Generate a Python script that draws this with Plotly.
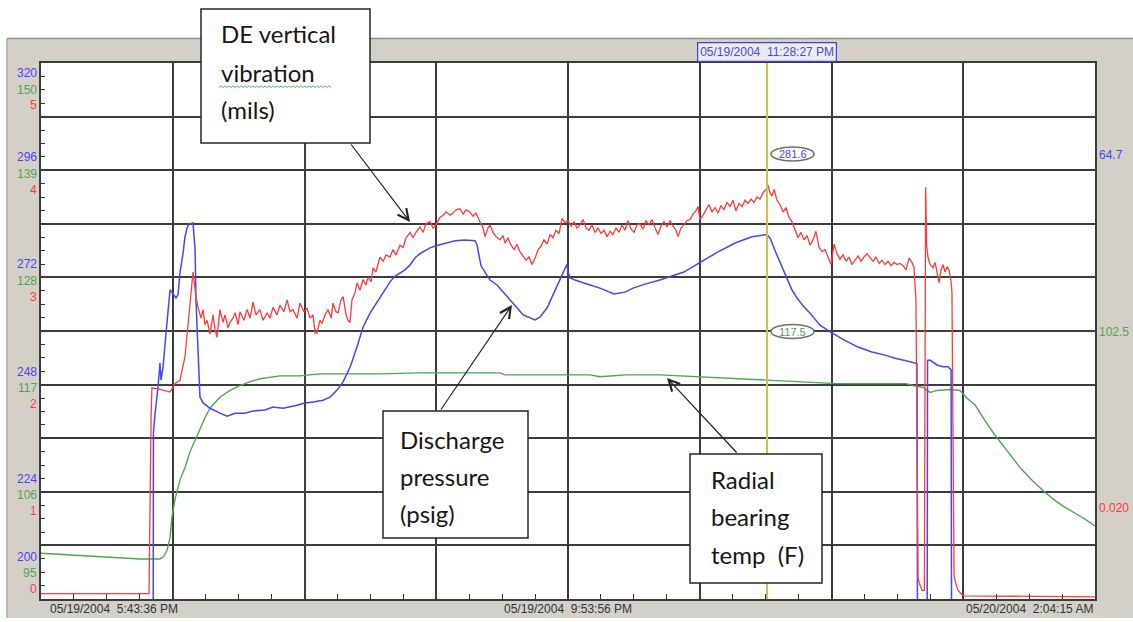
import pandas as pd
import plotly.graph_objects as go

# ---- canvas and plot-area geometry (pixels) ----
W, H = 1133, 622
ML, MR, MT, MB = 41, 38, 63, 23
PW, PH = W - ML - MR, H - MT - MB


def fx(px):
    """canvas x pixel -> paper fraction"""
    return (px - ML) / PW


def fy(py):
    """canvas y pixel (from top) -> paper fraction"""
    return (H - MB - py) / PH


# ---- trend window ----
TREND_START = pd.Timestamp("2004-05-19 17:43:36")
TREND_END = pd.Timestamp("2004-05-20 02:04:15")
CURSOR_TIME = pd.Timestamp("2004-05-19 23:28:27")
CURSOR_MIN = 344.85  # minutes after trend start

time_labels = ["05/19/2004  5:43:36 PM", "05/19/2004  9:53:56 PM", "05/20/2004  2:04:15 AM"]
label_times = ["2004-05-19 17:43:36", "2004-05-19 21:53:56", "2004-05-20 02:04:15"]
cursor_label = "05/19/2004  11:28:27 PM"

# ---- left scale labels (one row every two grid divisions) ----
pressure_ticks = [200, 224, 248, 272, 296, 320]   # psig
temp_ticks = [95, 106, 117, 128, 139, 150]        # deg F
vib_ticks = [0, 1, 2, 3, 4, 5]                    # mils

# ---- DE vertical vibration (mils) ----
vib_min = [0, 51.3, 52.3, 52.7, 55.6, 58.9, 61.3, 63.7, 66.0, 68.4, 69.8, 71.3, 72.2, 73.6, 74.6,
           76.0, 77.0, 77.9, 78.9, 80.3, 81.7, 82.7, 83.6, 85.0, 86.5, 87.4, 88.8, 89.8, 91.2, 92.2,
           93.6, 94.5, 96.4, 97.9, 99.3, 100.7, 102.1, 104.0, 105.5, 107.4, 108.8, 110.2, 112.1,
           113.5, 115.4, 116.9, 118.3, 119.7, 121.6, 123.0, 124.9, 126.4, 127.8, 129.2, 130.2,
           131.1, 132.5, 133.5, 134.9, 136.3, 137.8, 138.7, 140.1, 141.1, 142.5, 143.5, 144.9,
           145.8, 146.8, 147.7, 149.2, 150.1, 151.5, 153.0, 154.4, 155.3, 156.8, 157.7, 159.1,
           161.0, 162.5, 163.9, 165.8, 167.2, 168.6, 170.5, 172.0, 173.4, 175.3, 176.7, 178.1,
           180.0, 181.5, 182.9, 184.8, 186.2, 187.6, 189.5, 191.0, 192.4, 194.3, 195.7, 197.1,
           199.0, 200.5, 201.9, 203.8, 205.2, 206.6, 208.5, 210.0, 210.9, 212.3, 213.3, 214.7,
           216.1, 218.0, 219.5, 220.4, 221.8, 223.3, 224.7, 226.1, 227.5, 229.0, 230.4, 231.8,
           233.2, 234.7, 236.1, 237.5, 238.9, 240.4, 241.8, 243.2, 244.6, 246.1, 247.5, 248.9,
           250.3, 251.8, 253.2, 254.6, 256.0, 257.5, 258.9, 260.3, 261.7, 263.2, 264.6, 266.0,
           267.4, 268.9, 270.3, 271.7, 273.1, 274.6, 276.0, 277.4, 278.8, 280.3, 281.7, 283.1,
           284.5, 286.0, 287.4, 288.8, 290.2, 291.7, 293.1, 294.5, 295.9, 297.4, 298.8, 300.2,
           301.6, 302.6, 304.0, 305.4, 306.9, 308.3, 309.7, 311.1, 312.1, 313.0, 314.5, 315.9,
           317.3, 318.7, 320.2, 321.6, 323.0, 324.4, 325.9, 327.3, 328.7, 330.1, 331.6, 333.0,
           334.4, 335.8, 337.3, 338.7, 340.1, 341.5, 343.0, 344.4, 345.3, 346.3, 347.2, 348.2,
           349.6, 351.0, 352.5, 353.9, 355.3, 356.7, 358.2, 359.6, 361.0, 362.4, 363.9, 365.3,
           366.7, 368.1, 369.6, 371.0, 372.4, 373.8, 375.3, 376.7, 378.1, 379.5, 381.0, 382.4,
           383.8, 385.2, 386.7, 388.1, 389.5, 390.9, 392.4, 393.8, 395.2, 396.6, 398.1, 399.5,
           400.9, 402.3, 403.8, 405.2, 406.6, 408.0, 409.5, 410.9, 412.3, 413.7, 414.7, 415.6,
           416.1, 416.6, 417.5, 418.5, 419.6, 420.2, 420.7, 421.3, 422.3, 423.7, 424.7, 425.6,
           426.6, 427.5, 428.5, 429.4, 430.4, 431.3, 432.3, 432.7, 433.2, 433.7, 434.6, 435.6,
           437.5, 438.4, 500.6]
vib_mils = [0.05, 0.05, 1.71, 1.97, 1.96, 1.94, 1.93, 2.01, 2.04, 2.26, 2.54, 2.82, 3.05, 2.82, 2.72,
            2.62, 2.70, 2.56, 2.60, 2.47, 2.65, 2.51, 2.44, 2.70, 2.58, 2.65, 2.53, 2.58, 2.62, 2.67,
            2.56, 2.68, 2.60, 2.70, 2.62, 2.77, 2.65, 2.70, 2.60, 2.67, 2.62, 2.72, 2.65,
            2.74, 2.68, 2.79, 2.68, 2.70, 2.62, 2.76, 2.68, 2.71, 2.62, 2.65, 2.48,
            2.48, 2.60, 2.57, 2.65, 2.70, 2.62, 2.76, 2.68, 2.67, 2.79, 2.82, 2.65,
            2.60, 2.58, 2.79, 2.86, 2.95, 2.88, 2.98, 2.93, 3.00, 2.96, 3.09, 3.05,
            3.19, 3.15, 3.21, 3.19, 3.26, 3.21, 3.30, 3.28, 3.37, 3.42, 3.37, 3.42,
            3.47, 3.42, 3.50, 3.52, 3.46, 3.49, 3.56, 3.58, 3.61, 3.58, 3.60, 3.63,
            3.64, 3.59, 3.63, 3.61, 3.57, 3.60, 3.52, 3.46, 3.38, 3.46, 3.49, 3.42,
            3.38, 3.35, 3.39, 3.32, 3.37, 3.30, 3.26, 3.31, 3.24, 3.20, 3.16, 3.19,
            3.12, 3.18, 3.26, 3.29, 3.35, 3.31, 3.40, 3.37, 3.44, 3.41, 3.55, 3.51,
            3.53, 3.48, 3.52, 3.46, 3.49, 3.54, 3.46, 3.44, 3.49, 3.42, 3.46, 3.41,
            3.44, 3.38, 3.43, 3.40, 3.46, 3.42, 3.49, 3.44, 3.53, 3.45, 3.42, 3.49,
            3.50, 3.45, 3.53, 3.49, 3.54, 3.46, 3.40, 3.48, 3.52, 3.47, 3.53, 3.48,
            3.44, 3.38, 3.46, 3.49, 3.53, 3.54, 3.59, 3.62, 3.66, 3.54, 3.58, 3.63,
            3.68, 3.61, 3.65, 3.60, 3.67, 3.63, 3.70, 3.66, 3.72, 3.62, 3.69, 3.66,
            3.72, 3.69, 3.73, 3.70, 3.75, 3.73, 3.79, 3.82, 3.86, 3.79, 3.76, 3.82,
            3.72, 3.68, 3.61, 3.65, 3.56, 3.52, 3.44, 3.37, 3.42, 3.35, 3.39, 3.30,
            3.35, 3.43, 3.28, 3.24, 3.26, 3.20, 3.12, 3.31, 3.22, 3.17, 3.21, 3.15,
            3.19, 3.12, 3.16, 3.20, 3.15, 3.19, 3.22, 3.18, 3.15, 3.19, 3.13, 3.16,
            3.12, 3.15, 3.11, 3.14, 3.12, 3.13, 3.11, 3.07, 3.18, 3.14, 3.09, 2.79,
            1.11, 0.19, 0.13, 0.08, 0.08, 3.84, 3.30, 3.19, 3.12, 3.09, 3.14, 3.05,
            2.95, 3.07, 3.12, 3.05, 3.10, 3.07, 2.96, 2.86, 0.92, 0.22, 0.14, 0.08,
            0.04, 0.03, 0.020]

# ---- Discharge pressure (psig) ----
press_min = [0, 53.0, 53.4, 54.2, 55.6, 56.5, 57.0, 58.0, 59.4, 60.3, 61.3, 62.2, 63.2, 64.1, 65.1,
             66.0, 67.5, 68.4, 69.4, 70.3, 72.2, 73.2, 73.6, 74.6, 75.5, 77.0, 80.3, 85.0, 88.4,
             92.2, 96.9, 100.7, 106.4, 110.2, 115.0, 121.6, 125.4, 129.2, 134.0, 137.3, 140.6,
             143.5, 146.8, 150.1, 153.0, 156.3, 159.6, 163.4, 165.8, 168.2, 170.5, 172.9, 175.3,
             177.7, 180.0, 182.4, 184.8, 187.6, 191.9, 196.7, 201.4, 206.2, 207.1, 208.1, 209.0,
             210.9, 213.3, 216.6, 219.5, 222.8, 226.1, 229.0, 232.3, 234.7, 237.0, 240.4, 243.2,
             246.5, 248.9, 249.9, 250.3, 251.3, 253.7, 256.0, 260.8, 265.5, 272.2, 277.4, 281.2,
             286.9, 294.0, 299.7, 305.4, 313.5, 321.6, 329.7, 337.7, 344.85, 346.3, 349.1, 351.5,
             353.9, 356.7, 359.1, 362.4, 365.3, 370.0, 375.3, 381.4, 388.1, 394.7, 400.9, 405.7,
             410.4, 414.2, 416.1, 416.8, 420.6, 421.1, 422.3, 425.6, 428.5, 430.8, 432.3, 433.0,
             500.6]
press_psig = [60.0, 60.0, 237.1, 241.6, 247.4, 252.8, 249.0, 252.0, 259.6, 264.7, 269.2, 268.7,
              268.1, 267.4, 268.1, 273.0, 277.5, 281.1, 283.1, 284.0, 284.2, 278.2, 267.0, 253.5,
              245.2, 243.9, 242.7, 241.6, 240.9, 241.6, 241.6, 242.1, 242.3, 243.0, 242.7, 243.4,
              243.9, 244.1, 244.5, 245.2, 246.8, 248.6, 251.9, 256.4, 260.9, 264.0, 266.5, 269.2,
              271.0, 272.3, 273.0, 273.7, 274.8, 276.4, 277.3, 278.0, 278.6, 279.1, 279.7, 280.2,
              280.4, 280.2, 279.3, 276.4, 274.6, 273.2, 271.4, 270.3, 268.8, 267.0, 265.2, 263.6,
              262.9, 262.5, 263.1, 265.2, 268.1, 271.4, 274.1, 275.0, 273.2, 271.9, 271.4, 271.0,
              270.3, 269.6, 268.3, 268.7, 269.6, 270.5, 271.4, 272.3, 273.2, 275.5, 277.7, 279.7,
              281.1, 281.6, 280.8, 277.5, 274.8, 272.1, 269.2, 267.4, 265.4, 264.0, 261.3, 259.7,
              258.0, 256.4, 255.3, 254.6, 253.9, 253.4, 253.0, 252.7, 64.7, 64.7, 253.4, 253.5,
              252.4, 252.0, 252.0, 251.3, 64.7, 64.7]

# ---- Radial bearing temperature (F) ----
temp_min = [0, 28.0, 47.0, 56.5, 58.0, 59.9, 61.3, 62.2, 63.7, 66.0, 68.4, 70.8, 73.2, 75.5, 77.9,
            80.3, 85.0, 89.8, 94.5, 99.3, 104.0, 113.5, 123.0, 132.5, 161.0, 180.0, 218.0, 220.4,
            260.8, 265.5, 277.9, 294.0, 313.5, 344.85, 378.1, 398.5, 410.9, 414.2, 419.0, 422.3,
            425.6, 431.8, 436.5, 439.9, 443.7, 448.4, 453.2, 459.3, 465.0, 469.8, 475.5, 481.7,
            486.4, 491.2, 495.9, 500.6]
temp_f = [99.7, 99.3, 99.1, 99.1, 99.3, 100.0, 101.3, 103.4, 105.3, 107.2, 108.5, 110.1, 111.3,
          112.5, 113.6, 114.6, 115.7, 116.4, 116.9, 117.3, 117.6, 117.9, 117.9, 118.1, 118.1,
          118.2, 118.2, 118.0, 118.0, 117.8, 118.0, 118.0, 117.8, 117.5, 117.1, 117.1, 117.1,
          116.9, 116.7, 116.2, 116.4, 116.5, 116.4, 115.6, 114.9, 113.3, 111.8, 110.1, 108.5,
          107.4, 106.2, 105.1, 104.4, 103.8, 103.2, 102.5]


def to_times(minutes):
    return [TREND_START + pd.Timedelta(minutes=m) for m in minutes]


BLUE, GREEN, RED = "#4646f5", "#4ea64e", "#ff3a3a"
GRID = "#3c3c3c"
PANEL = "#d4d0c8"
LABEL_FONT = "Liberation Sans, Arial, sans-serif"
CALLOUT_FONT = "Lato, Calibri, sans-serif"

cursor_pressure = press_psig[press_min.index(CURSOR_MIN)]
cursor_temp = temp_f[temp_min.index(CURSOR_MIN)]

fig = go.Figure()
fig.add_trace(go.Scatter(x=to_times(temp_min), y=temp_f, mode="lines", yaxis="y",
                         line=dict(color=GREEN, width=1.4), hoverinfo="skip"))
fig.add_trace(go.Scatter(x=to_times(press_min), y=press_psig, mode="lines", yaxis="y2",
                         line=dict(color=BLUE, width=1.5), hoverinfo="skip"))
fig.add_trace(go.Scatter(x=to_times(vib_min), y=vib_mils, mode="lines", yaxis="y3",
                         line=dict(color=RED, width=1.3), hoverinfo="skip"))

span_ms = (TREND_END - TREND_START).total_seconds() * 1000
x_div = span_ms / 8

shapes = [
    # grey instrument panel behind the plot
    dict(type="rect", xref="paper", yref="paper", x0=fx(7), x1=fx(W + 5), y0=fy(618), y1=fy(38),
         fillcolor=PANEL, line=dict(width=0), layer="below"),
    dict(type="line", xref="paper", yref="paper", x0=fx(7), x1=fx(W + 5), y0=fy(38.5), y1=fy(38.5),
         line=dict(color="#8e8e8e", width=1.5), layer="below"),
    dict(type="line", xref="paper", yref="paper", x0=fx(7), x1=fx(7), y0=fy(618), y1=fy(38.5),
         line=dict(color="#a8a8a8", width=1.5), layer="below"),
    # white chart area
    dict(type="rect", xref="paper", yref="paper", x0=0, x1=1, y0=0, y1=1,
         fillcolor="white", line=dict(width=0), layer="below"),
    # cursor
    dict(type="line", xref="x", yref="paper", x0=CURSOR_TIME, x1=CURSOR_TIME, y0=0, y1=1,
         line=dict(color="#c9c54a", width=2), layer="above"),
]

# value bubbles beside the cursor
for yb in (154, 331.5):
    shapes.append(dict(type="circle", xref="x", yref="paper", xsizemode="pixel", ysizemode="pixel",
                       xanchor=CURSOR_TIME, yanchor=fy(yb), x0=4, x1=47, y0=-7, y1=7,
                       fillcolor="white", line=dict(color="#707070", width=1.5), layer="above"))

# callout boxes
boxes = [(201, 370, 9, 143), (383, 528, 411, 538), (690, 822, 454, 583)]
for x0, x1, y0, y1 in boxes:
    shapes.append(dict(type="rect", xref="paper", yref="paper", x0=fx(x0), x1=fx(x1),
                       y0=fy(y1), y1=fy(y0), fillcolor="white",
                       line=dict(color="#262626", width=1.5), layer="above"))

# spell-check squiggle under "vibration"
zig = "M0,0" + "".join(f" L{i * 2},{1.6 if i % 2 else 0}" for i in range(1, 57))
shapes.append(dict(type="path", xref="paper", yref="paper", xsizemode="pixel", ysizemode="pixel",
                   xanchor=fx(219), yanchor=fy(87.5), path=zig,
                   line=dict(color="#5cb85c", width=1), layer="above"))

ann = []
# left stacked scale labels
row_shift = {"mid": (13, -3.5, -19.5), "top": (-10, -27, -42), "bottom": (42, 26, 10)}
for k in range(len(temp_ticks)):
    key = "bottom" if k == 0 else ("top" if k == len(temp_ticks) - 1 else "mid")
    sb, sg, sr = row_shift[key]
    for val, yref, col, sh in ((pressure_ticks[k], "y2", BLUE, sb),
                               (temp_ticks[k], "y", GREEN, sg),
                               (vib_ticks[k], "y3", RED, sr)):
        ann.append(dict(x=0, xref="paper", xanchor="right", xshift=-2, y=val, yref=yref,
                        yanchor="middle", yshift=sh, text=str(val), showarrow=False,
                        font=dict(family=LABEL_FONT, size=12, color=col)))

# time labels along the bottom
for i, (t, lab) in enumerate(zip(label_times, time_labels)):
    anchor = ["left", "center", "right"][i]
    ann.append(dict(x=t, xref="x", xanchor=anchor, xshift=7 if i == 0 else 0, y=0, yref="paper",
                    yanchor="middle", yshift=-10, text=lab.replace("  ", " \u00a0"),
                    showarrow=False, font=dict(family=LABEL_FONT, size=12, color="#333333")))

# cursor time stamp
ann.append(dict(x=CURSOR_TIME, xref="x", xanchor="center", y=1, yref="paper", yanchor="middle",
                yshift=11, text=cursor_label.replace("  ", " \u00a0"), showarrow=False,
                bgcolor="#ececec", bordercolor="#3c3cff", borderwidth=1.2, borderpad=2,
                font=dict(family=LABEL_FONT, size=12, color=BLUE)))

# cursor values
for val, yb, col in ((cursor_pressure, 154, BLUE), (cursor_temp, 331.5, GREEN)):
    ann.append(dict(x=CURSOR_TIME, xref="x", xshift=25.5, xanchor="center", y=fy(yb), yref="paper",
                    yanchor="middle", text=f"{val:.1f}", showarrow=False,
                    font=dict(family=LABEL_FONT, size=11, color=col)))

# right-hand end values
for txt, yb, col in ((f"{press_psig[-1]:.1f}", 155, BLUE), (f"{temp_f[-1]:.1f}", 332, GREEN),
                     (f"{vib_mils[-1]:.3f}", 508, RED)):
    ann.append(dict(x=1, xref="paper", xanchor="left", xshift=2, y=fy(yb), yref="paper",
                    yanchor="middle", text=txt, showarrow=False,
                    font=dict(family=LABEL_FONT, size=12, color=col)))

# callout text
callouts = [
    (219, [("DE vertical", 34), ("vibration", 72.4), ("(mils)", 109.4)]),
    (398, [("Discharge", 439.7), ("pressure", 476.7), ("(psig)", 513.7)]),
    (709, [("Radial", 479.7), ("bearing", 516.7), ("temp\u00a0 (F)", 554.7)]),
]
for xl, lines in callouts:
    for txt, yc in lines:
        ann.append(dict(x=fx(xl), xref="paper", xanchor="left", y=fy(yc), yref="paper",
                        yanchor="middle", text=txt, showarrow=False,
                        font=dict(family=CALLOUT_FONT, size=24, color="#161616")))

# callout arrows: (head x, head y, tail x, tail y) in canvas pixels
arrows = [(410, 222, 350, 143), (512, 305, 440, 411), (667, 378, 738, 454)]
for hx, hy, tx, ty in arrows:
    ann.append(dict(x=fx(hx), y=fy(hy), xref="paper", yref="paper", ax=tx - hx, ay=ty - hy,
                    axref="pixel", ayref="pixel", text="", showarrow=True, arrowhead=5,
                    arrowsize=1.8, arrowwidth=1.2, arrowcolor="#222222", standoff=0,
                    startstandoff=0))

fig.update_layout(
    width=W, height=H, autosize=False,
    margin=dict(l=ML, r=MR, t=MT, b=MB, pad=0),
    paper_bgcolor="white", plot_bgcolor="white",
    showlegend=False, hovermode=False,
    xaxis=dict(type="date", range=[str(TREND_START), str(TREND_END)],
               tick0=str(TREND_START), dtick=x_div, showgrid=True, gridcolor=GRID, gridwidth=2,
               showline=True, mirror=True, linecolor=GRID, linewidth=2, zeroline=False,
               ticks="", showticklabels=False, fixedrange=True,
               minor=dict(tick0=str(TREND_START), dtick=x_div / 4, ticks="inside", ticklen=5,
                          tickwidth=1, tickcolor="#333333", showgrid=False)),
    yaxis=dict(range=[95, 150], tick0=95, dtick=5.5, showgrid=True, gridcolor=GRID, gridwidth=2,
               showline=True, mirror=True, linecolor=GRID, linewidth=2, zeroline=False,
               ticks="inside", ticklen=4, tickcolor="#333333", showticklabels=False,
               fixedrange=True,
               minor=dict(tick0=95, dtick=1.375, ticks="inside", ticklen=4, tickwidth=1,
                          tickcolor="#333333", showgrid=False)),
    yaxis2=dict(range=[200, 320], overlaying="y", visible=False, fixedrange=True),
    yaxis3=dict(range=[0, 5], overlaying="y", visible=False, fixedrange=True),
    shapes=shapes,
    annotations=ann,
)

fig.write_html("out.html")
